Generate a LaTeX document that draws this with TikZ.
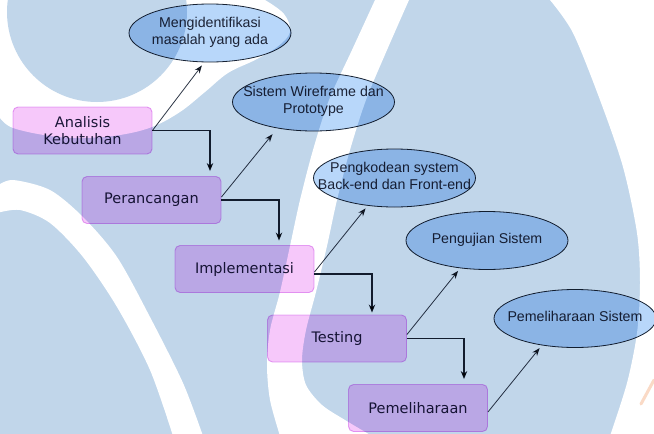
\documentclass[tikz,border=0pt]{standalone}
\usepackage{fontspec}
\setmainfont{DejaVu Sans}
\newfontfamily\ellfont{Liberation Sans}
\usetikzlibrary{arrows.meta,shapes.geometric}

\definecolor{wmblue}{RGB}{193,214,234}
\definecolor{boxfill}{RGB}{246,200,250}
\definecolor{boxline}{RGB}{232,168,244}
\definecolor{ellfill}{RGB}{184,215,250}
\definecolor{ellline}{RGB}{28,38,52}
\definecolor{inktext}{RGB}{30,30,58}
\definecolor{elltext}{RGB}{40,42,56}
\definecolor{arrowink}{RGB}{24,34,50}
\definecolor{peach}{RGB}{250,218,198}

% two-line label that does not widen its ellipse
\newcommand{\ovltxt}[1]{\makebox[0pt]{\begin{tabular}{@{}c@{}}#1\end{tabular}}}

\begin{document}
\begin{tikzpicture}[x=1pt,y=-1pt,
  stage/.style={draw=boxline, line width=0.9pt, fill=boxfill, rounded corners=5pt,
    minimum width=139pt, minimum height=47pt, inner sep=0pt, align=center,
    font=\fontsize{14.5}{17}\selectfont, text=inktext},
  outcome/.style={ellipse, draw=ellline, line width=0.8pt, fill=ellfill,
    minimum width=162pt, minimum height=58pt, inner sep=0pt,
    font=\ellfont\fontsize{14.2}{17}\selectfont, text=elltext},
  feed/.style={draw=arrowink!90!white, line width=0.8pt, -{Stealth[length=8pt,width=6pt]}},
  flow/.style={draw=arrowink, line width=1.2pt, -{Stealth[length=8pt,width=6.5pt]}},
]
\useasboundingbox (0,0) rectangle (654,434);

% ---------- watermark ----------
\fill[wmblue] (0,0) rectangle (654,434);
% halo around the round head
\fill[white] plot[smooth, tension=0.6] coordinates {(0,118) (13,128) (50,136) (83,138) (120,135)
  (152,127) (180,112) (205,92) (228,73) (255,60) (277,47) (290,32) (284,14) (265,0)} -- (0,0) -- cycle;
\fill[wmblue] (97,12) circle (90pt);
% left arch
\fill[white] plot[smooth] coordinates {(-3,186) (13,180) (50,190) (83,217) (117,257) (150,317)
  (183,383) (203,436)} -- plot[smooth] coordinates {(173,436) (150,370) (117,307) (83,257)
  (50,223) (20,210) (-3,213)} -- cycle;
% middle stroke with its rounded foot
\fill[white] plot[smooth] coordinates {(375,0) (352,50) (329,100) (313,150) (300,200) (290,246)
  (280,292) (270,330) (267,365) (270,400) (280,436)} -- plot[smooth] coordinates {(372,436)
  (345,420) (322,405) (306,385) (302,360) (306,330) (316,292) (327,246) (337,200) (350,150)
  (366,100) (387,50) (409,0)} -- cycle;
% right side
\fill[white] plot[smooth] coordinates {(550,0) (573,33) (600,100) (623,167) (637,233) (640,283)
  (637,333) (627,383) (610,436)} -- (660,436) -- (660,0) -- cycle;
\draw[peach, line width=3pt, line cap=round] (654,380) -- (641,404);

% ---------- diagram ----------
\begin{scope}[blend mode=multiply]
\node[stage] (ana) at (82.5,130.5) {Analisis\\Kebutuhan};
\node[stage] (ran) at (151.5,200) {Perancangan};
\node[stage] (imp) at (244.5,269) {Implementasi};
\node[stage] (tes) at (337,338.5) {Testing};
\node[stage] (pel) at (418,408) {Pemeliharaan};

\node[outcome] (o1) at (210,33) {\ovltxt{Mengidentifikasi\\masalah yang ada}};
\node[outcome] (o2) at (313.5,102) {\ovltxt{Sistem Wireframe dan\\Prototype}};
\node[outcome] (o3) at (394.5,178) {\ovltxt{Pengkodean system\\Back-end dan Front-end}};
\node[outcome] (o4) at (487,240.5) {\ovltxt{Pengujian Sistem}};
\node[outcome] (o5) at (575,318.5) {\ovltxt{Pemeliharaan Sistem}};

% outputs of each stage
\draw[feed, shorten >=3.9pt] (ana.east) -- (o1.259);
\draw[feed, shorten >=7.5pt] ([yshift=3pt]ran.east) -- (o2.216);
\draw[feed, shorten >=3.3pt] ([yshift=-3pt]imp.east) -- (o3.226);
\draw[feed, shorten >=3.3pt] ([yshift=4pt]tes.east) -- (o4.226);
\draw[feed, shorten >=3.4pt] ([yshift=-4pt]pel.east) -- (o5.219);

% waterfall steps
\draw[flow, shorten >=5pt] (ana.east) -| ([xshift=58.5pt]ran.north);
\draw[flow, shorten >=4.5pt] (ran.east) -| ([xshift=34.5pt]imp.north);
\draw[flow, shorten >=2pt] ([yshift=-5pt]imp.east) -| ([xshift=35pt]tes.north);
\draw[flow, shorten >=5pt] (tes.east) -| ([xshift=46pt]pel.north);
\end{scope}
\end{tikzpicture}
\end{document}
